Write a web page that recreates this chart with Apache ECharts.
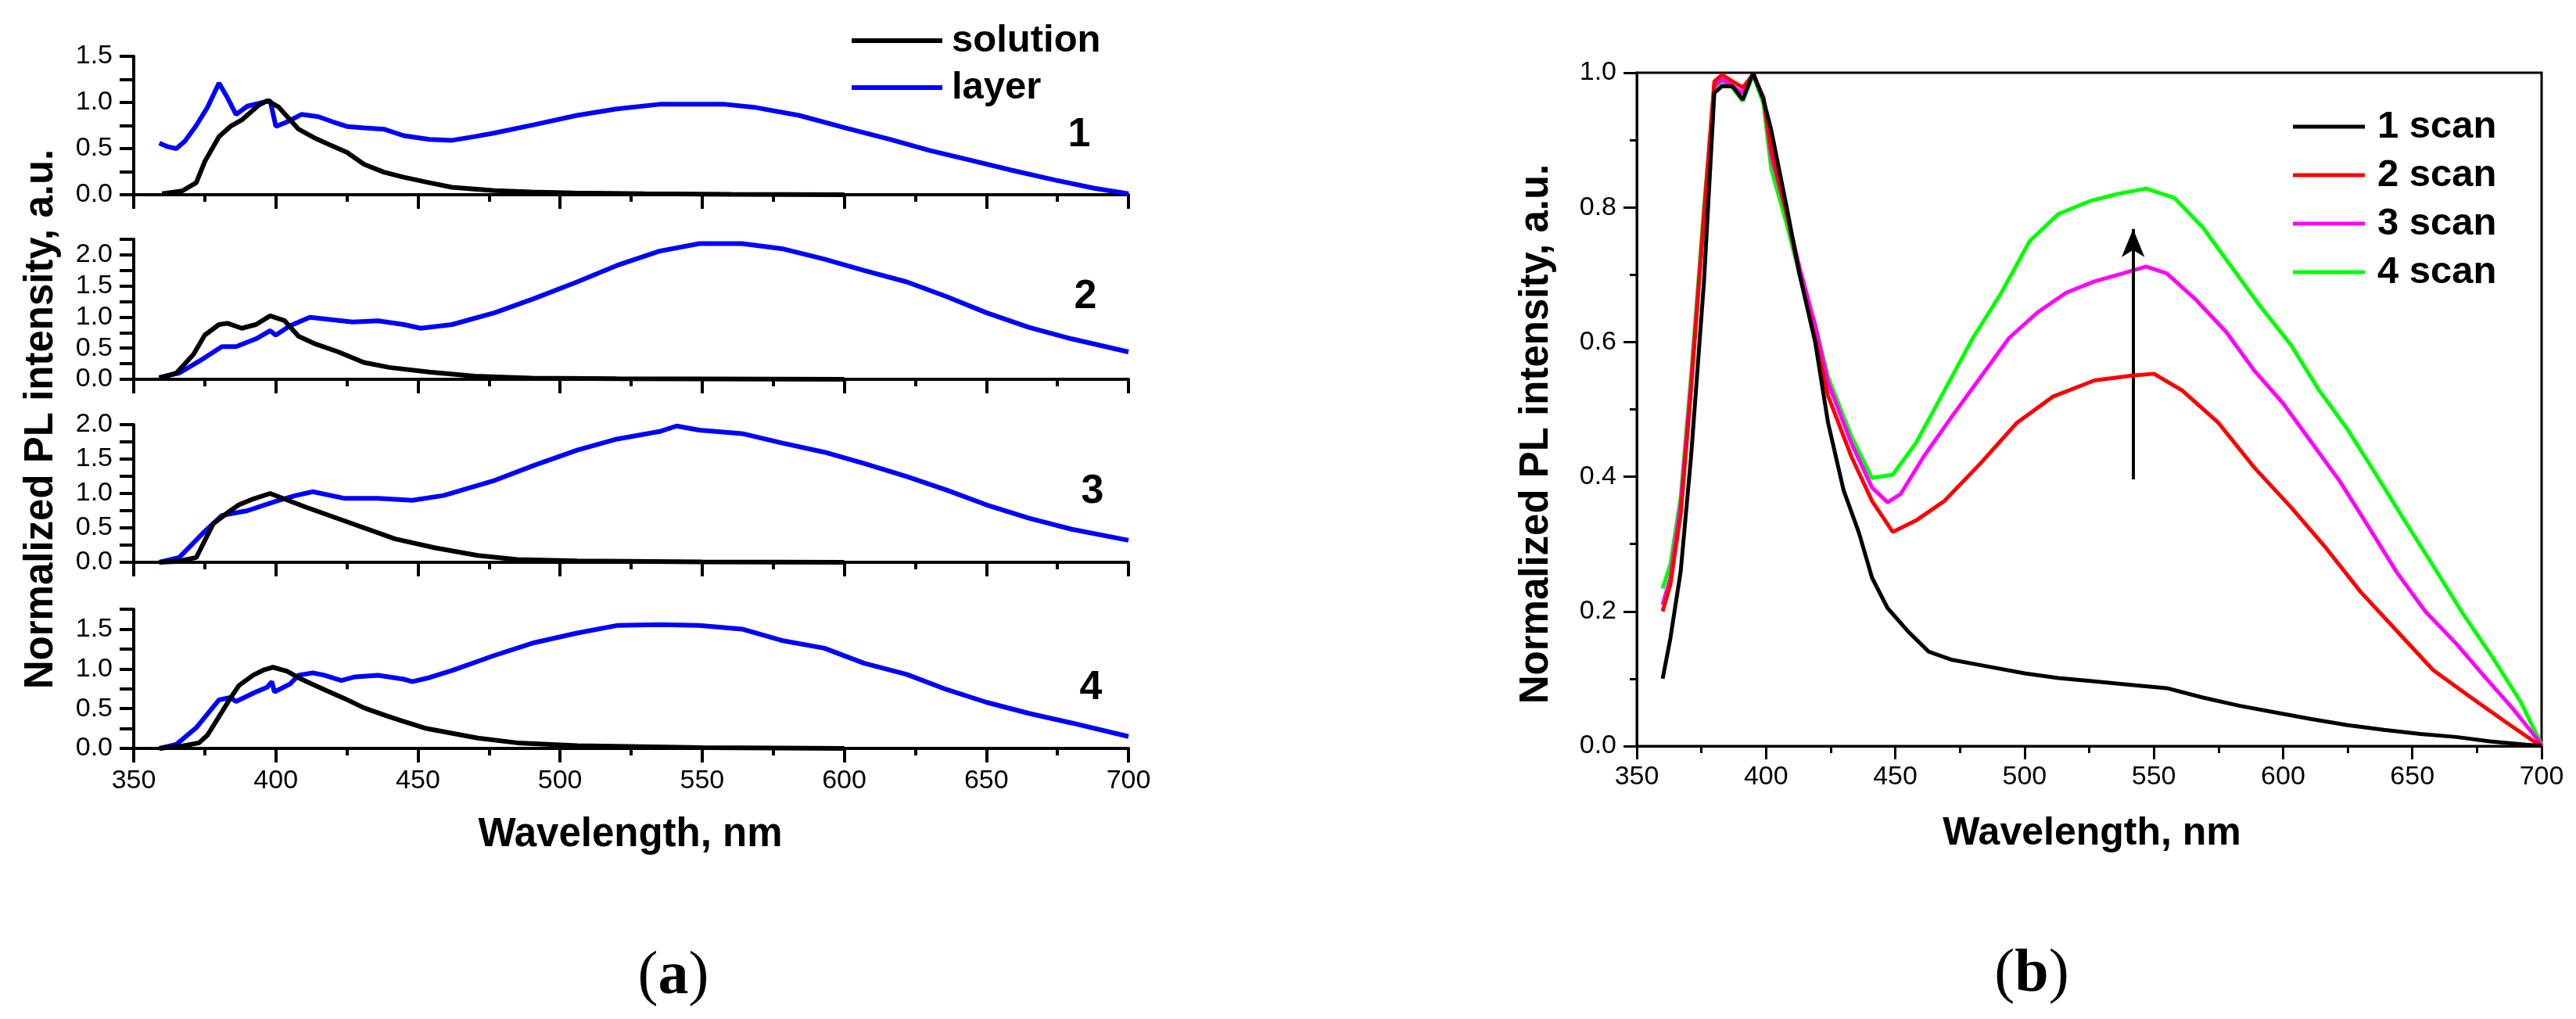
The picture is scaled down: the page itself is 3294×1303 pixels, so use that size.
<!DOCTYPE html>
<html>
<head>
<meta charset="utf-8">
<script src="https://cdn.jsdelivr.net/npm/echarts@6/dist/echarts.min.js"></script>
<style>
  html, body { margin: 0; padding: 0; background: #fff; }
  #chart { width: 3294px; height: 1303px; }
</style>
</head>
<body>
<div id="chart"></div>
<script>
  // panel (a): wavelength / normalized intensity pairs
  var solution1 = [[360,0.01],[367,0.04],[372,0.13],[375,0.36],[380,0.63],[384,0.74],[388,0.81],[394,0.97],[397,1.02],[401,0.95],[408,0.71],[414,0.61],[419,0.54],[425,0.46],[431,0.33],[438,0.245],[445,0.19],[454,0.13],[462,0.08],[477,0.044],[490,0.03],[505,0.02],[530,0.01],[560,0.005],[600,0]];
  var layer1 = [[359,0.56],[362,0.52],[365,0.5],[368,0.58],[372,0.75],[376,0.95],[380,1.21],[383,1.05],[386,0.87],[390,0.96],[398,1.02],[400,0.74],[404,0.79],[409,0.87],[415,0.845],[420,0.79],[425,0.74],[431,0.725],[438,0.71],[445,0.64],[454,0.6],[462,0.59],[470,0.63],[477,0.67],[491,0.76],[506,0.86],[520,0.93],[535,0.98],[549,0.98],[558,0.98],[569,0.944],[584,0.86],[601,0.72],[616,0.6],[630,0.48],[645,0.37],[659,0.265],[674,0.16],[688,0.07],[700,0.01]];
  var solution2 = [[359,0.02],[365,0.1],[371,0.4],[375,0.71],[380,0.88],[383,0.9],[388,0.82],[393,0.88],[398,1.02],[403,0.945],[408,0.69],[414,0.567],[422,0.44],[431,0.27],[440,0.19],[454,0.117],[470,0.05],[490,0.02],[520,0.01],[600,0]];
  var layer2 = [[359,0.03],[366,0.1],[373,0.29],[381,0.525],[386,0.525],[393,0.65],[398,0.78],[400,0.71],[405,0.86],[412,0.995],[417,0.97],[427,0.92],[436,0.94],[445,0.88],[451,0.82],[462,0.88],[477,1.07],[491,1.3],[506,1.565],[520,1.83],[535,2.06],[549,2.18],[564,2.18],[578,2.1],[593,1.93],[607,1.75],[622,1.565],[636,1.33],[650,1.07],[665,0.835],[680,0.65],[700,0.44]];
  var solution3 = [[359,0],[365,0.01],[372,0.07],[378,0.56],[384,0.75],[387,0.835],[392,0.92],[398,1],[410,0.81],[427,0.56],[442,0.34],[456,0.21],[471,0.1],[485,0.04],[506,0.02],[550,0.005],[600,0]];
  var layer3 = [[359,0],[366,0.07],[375,0.45],[381,0.68],[390,0.75],[398,0.86],[401,0.9],[407,0.97],[413,1.025],[424,0.93],[436,0.93],[448,0.9],[459,0.97],[477,1.19],[491,1.41],[506,1.63],[520,1.79],[535,1.9],[541,1.98],[549,1.92],[564,1.87],[578,1.735],[593,1.6],[607,1.435],[622,1.245],[636,1.05],[650,0.835],[665,0.64],[680,0.48],[700,0.32]];
  var solution4 = [[359,0],[367,0.03],[373,0.07],[376,0.17],[380,0.4],[384,0.63],[387,0.79],[392,0.92],[396,0.99],[399,1.02],[404,0.97],[409,0.87],[417,0.74],[424,0.63],[431,0.51],[439,0.41],[444,0.35],[453,0.25],[471,0.13],[485,0.07],[506,0.035],[550,0.01],[600,0]];
  var layer4 = [[359,0],[365,0.05],[372,0.26],[380,0.61],[384,0.64],[386,0.59],[393,0.71],[397,0.77],[398.6,0.84],[399.5,0.71],[405,0.81],[408,0.92],[413,0.95],[417,0.92],[423,0.855],[428,0.9],[436,0.92],[445,0.87],[448,0.84],[454,0.89],[462,0.98],[477,1.17],[491,1.33],[506,1.45],[520,1.545],[535,1.555],[549,1.545],[564,1.5],[578,1.357],[593,1.26],[607,1.07],[622,0.93],[636,0.74],[650,0.58],[665,0.44],[680,0.32],[700,0.15]];
  var panelMax = [1.5, 2.25, 2.0, 1.75];
  var panelTags = ['1', '2', '3', '4'];

  // panel (b): repeated scans
  var scan1 = [[360,0.1],[363,0.16],[367,0.26],[371,0.43],[376,0.69],[380,0.97],[383,0.98],[387,0.98],[391,0.96],[395,1],[399,0.96],[402,0.915],[408,0.8],[413,0.7],[419,0.6],[424,0.48],[430,0.38],[436,0.316],[441,0.25],[447,0.205],[455,0.17],[463,0.14],[472,0.128],[486,0.118],[500,0.108],[513,0.101],[527,0.096],[541,0.091],[555,0.086],[569,0.072],[583,0.06],[597,0.05],[611,0.04],[625,0.031],[639,0.024],[653,0.018],[667,0.0135],[680,0.007],[694,0.002],[700,0]];
  var scan2 = [[360,0.2],[363,0.24],[367,0.345],[371,0.53],[376,0.79],[380,0.987],[383,0.997],[387,0.987],[391,0.978],[395,0.997],[399,0.963],[402,0.886],[408,0.79],[413,0.7],[419,0.606],[424,0.52],[433,0.43],[441,0.364],[449,0.318],[458,0.335],[469,0.364],[483,0.42],[497,0.48],[511,0.519],[527,0.543],[541,0.55],[550,0.553],[561,0.528],[575,0.48],[589,0.413],[603,0.355],[616,0.297],[630,0.229],[644,0.171],[658,0.113],[672,0.074],[686,0.036],[697,0.007],[700,0]];
  var scan3 = [[360,0.21],[363,0.25],[367,0.36],[371,0.54],[380,0.98],[383,0.99],[387,0.98],[391,0.97],[395,0.997],[399,0.963],[402,0.876],[408,0.79],[413,0.71],[419,0.625],[424,0.54],[433,0.45],[441,0.384],[447,0.362],[452,0.374],[461,0.43],[472,0.49],[483,0.548],[494,0.606],[505,0.644],[516,0.673],[527,0.69],[538,0.702],[547,0.712],[555,0.702],[566,0.664],[578,0.615],[589,0.557],[600,0.509],[611,0.451],[622,0.393],[633,0.326],[644,0.258],[655,0.2],[667,0.152],[678,0.103],[689,0.055],[699,0.007],[700,0]];
  var scan4 = [[360,0.234],[363,0.27],[367,0.37],[371,0.55],[376,0.8],[380,0.978],[383,0.987],[387,0.978],[391,0.958],[395,0.997],[399,0.954],[402,0.857],[408,0.775],[413,0.7],[419,0.625],[424,0.548],[433,0.46],[441,0.398],[449,0.403],[458,0.45],[469,0.528],[480,0.606],[491,0.673],[502,0.75],[513,0.79],[525,0.809],[536,0.82],[547,0.828],[558,0.814],[569,0.77],[580,0.712],[591,0.654],[603,0.596],[614,0.528],[625,0.47],[636,0.403],[647,0.335],[658,0.268],[669,0.2],[681,0.132],[692,0.065],[700,0.002]];
  var arrowFrom = [542, 0.396];
  var arrowTo = [542, 0.768];

  var FONT = "'Liberation Sans', Arial, sans-serif";
  var chart = echarts.init(document.getElementById('chart'), null, { renderer: 'canvas' });

  var aGrids = [
    { left: 171, top: 72, width: 1272, height: 177 },
    { left: 171, top: 306, width: 1272, height: 179 },
    { left: 171, top: 543, width: 1272, height: 176 },
    { left: 171, top: 779, width: 1272, height: 178 }
  ];
  var bGrid = { left: 2093, top: 93, width: 1157, height: 861, show: true, borderColor: '#000', borderWidth: 3 };

  var tickLabel = { color: '#000', fontFamily: FONT, fontSize: 34 };
  var grids = [], xAxes = [], yAxes = [], series = [];
  var solutions = [solution1, solution2, solution3, solution4];
  var layers = [layer1, layer2, layer3, layer4];

  aGrids.forEach(function (g, i) {
    grids.push(g);
    xAxes.push({
      gridIndex: i, type: 'value', min: 350, max: 700, interval: 50,
      axisLine: { lineStyle: { color: '#000', width: 4 } },
      axisTick: { length: 18, lineStyle: { width: 4 } },
      minorTick: { show: true, splitNumber: 2, length: 9, lineStyle: { color: '#000', width: 4 } },
      axisLabel: Object.assign({ show: i === 3, margin: 25 }, tickLabel),
      splitLine: { show: false }
    });
    yAxes.push({
      gridIndex: i, type: 'value', min: 0, max: panelMax[i], interval: 0.5,
      axisLine: { show: true, lineStyle: { color: '#000', width: 4 } },
      axisTick: { show: true, length: 18, lineStyle: { width: 4 } },
      minorTick: { show: true, splitNumber: 2, length: 18, lineStyle: { color: '#000', width: 4 } },
      axisLabel: Object.assign({
        margin: 27, showMaxLabel: panelMax[i] % 0.5 === 0,
        formatter: function (v) { return v.toFixed(1); }
      }, tickLabel),
      splitLine: { show: false }
    });
    series.push({
      name: 'solution', type: 'line', xAxisIndex: i, yAxisIndex: i, data: solutions[i],
      showSymbol: false, lineStyle: { color: '#000', width: 6 }, itemStyle: { color: '#000' }, z: 3
    });
    series.push({
      name: 'layer', type: 'line', xAxisIndex: i, yAxisIndex: i, data: layers[i],
      showSymbol: false, lineStyle: { color: '#0000ff', width: 6 }, itemStyle: { color: '#0000ff' }, z: 2
    });
  });

  grids.push(bGrid);
  xAxes.push({
    gridIndex: 4, type: 'value', min: 350, max: 700, interval: 50,
    axisLine: { lineStyle: { color: '#000', width: 3 } },
    axisTick: { length: 17, lineStyle: { width: 3 } },
    minorTick: { show: true, splitNumber: 2, length: 9, lineStyle: { color: '#000', width: 3 } },
    axisLabel: Object.assign({ margin: 23 }, tickLabel),
    splitLine: { show: false }
  });
  yAxes.push({
    gridIndex: 4, type: 'value', min: 0, max: 1, interval: 0.2,
    axisLine: { show: true, lineStyle: { color: '#000', width: 3 } },
    axisTick: { show: true, length: 17, lineStyle: { width: 3 } },
    minorTick: { show: true, splitNumber: 2, length: 9, lineStyle: { color: '#000', width: 3 } },
    axisLabel: Object.assign({ margin: 26, formatter: function (v) { return v.toFixed(1); } }, tickLabel),
    splitLine: { show: false }
  });
  var scans = [
    { name: '1 scan', data: scan1, color: '#000000' },
    { name: '2 scan', data: scan2, color: '#ff0000' },
    { name: '3 scan', data: scan3, color: '#ff00ff' },
    { name: '4 scan', data: scan4, color: '#00ff00' }
  ];
  scans.forEach(function (s, k) {
    var ser = {
      name: s.name, type: 'line', xAxisIndex: 4, yAxisIndex: 4, data: s.data,
      showSymbol: false, lineStyle: { color: s.color, width: 5 }, itemStyle: { color: s.color }, z: 6 - k
    };
    if (k === 0) {
      ser.markLine = {
        silent: true, animation: false,
        symbol: ['none', 'arrow'], symbolSize: [22, 36],
        label: { show: false },
        lineStyle: { color: '#000', width: 4, type: 'solid' },
        data: [[{ coord: arrowFrom }, { coord: arrowTo }]]
      };
    }
    series.push(ser);
  });

  var titleFont = { fontFamily: FONT, fontWeight: 'bold', fill: '#000' };
  function label(x, y, text, size, rot) {
    return {
      type: 'text', x: x, y: y, rotation: rot || 0,
      style: Object.assign({
        text: text, fontSize: size, align: 'center', verticalAlign: 'middle',
        textAlign: 'center', textVerticalAlign: 'middle'
      }, titleFont)
    };
  }
  var graphics = [
    label(53, 536, 'Normalized PL intensity, a.u.', 51, Math.PI / 2),
    label(806, 1068, 'Wavelength, nm', 51),
    label(1965, 555, 'Normalized PL intensity, a.u.', 51, Math.PI / 2),
    label(2675, 1066, 'Wavelength, nm', 50)
  ];
  var tagPos = [[1380, 173], [1388, 380], [1397, 629], [1395, 880]];
  panelTags.forEach(function (t, i) {
    graphics.push(label(tagPos[i][0], tagPos[i][1], t, 52));
  });
  ['a', 'b'].forEach(function (t, i) {
    graphics.push({
      type: 'text', x: i ? 2598 : 861, y: i ? 1247 : 1250,
      style: {
        text: '{p|(}{b|' + t + '}{p|)}', align: 'center', verticalAlign: 'middle',
        textAlign: 'center', textVerticalAlign: 'middle',
        rich: {
          p: { fontFamily: "'Liberation Serif', 'Times New Roman', serif", fontSize: 78, fill: '#000', color: '#000' },
          b: { fontFamily: "'Liberation Serif', 'Times New Roman', serif", fontSize: 78, fontWeight: 'bold', fill: '#000', color: '#000' }
        }
      }
    });
  });

  var option = {
    animation: false,
    backgroundColor: '#fff',
    grid: grids,
    xAxis: xAxes,
    yAxis: yAxes,
    legend: [
      {
        data: ['solution', 'layer'], orient: 'vertical', left: 1084, top: 22,
        icon: 'rect', itemWidth: 116, itemHeight: 6, itemGap: 10,
        textStyle: { fontFamily: FONT, fontWeight: 'bold', fontSize: 49, lineHeight: 50, color: '#000', padding: [0, 0, 0, 7] }
      },
      {
        data: ['1 scan', '2 scan', '3 scan', '4 scan'], orient: 'vertical', left: 2927, top: 132,
        icon: 'rect', itemWidth: 92, itemHeight: 5, itemGap: 12,
        textStyle: { fontFamily: FONT, fontWeight: 'bold', fontSize: 49, lineHeight: 50, color: '#000', padding: [0, 0, 0, 11] }
      }
    ],
    graphic: graphics,
    series: series
  };
  chart.setOption(option);
</script>
</body>
</html>
